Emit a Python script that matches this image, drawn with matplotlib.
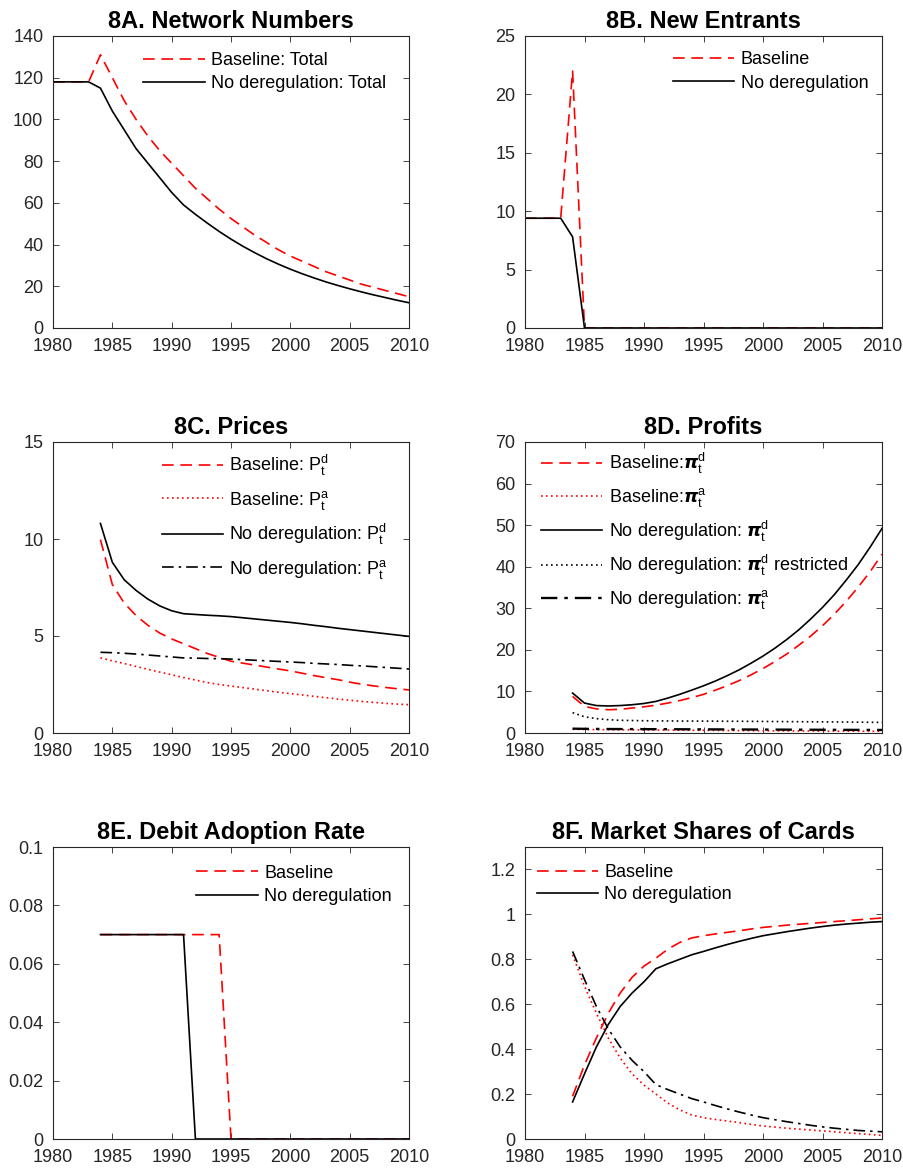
import numpy as np
import matplotlib
matplotlib.use("Agg")
import matplotlib.pyplot as plt
from matplotlib.ticker import FuncFormatter

plt.rcParams['font.family'] = ['Liberation Sans', 'DejaVu Sans']
plt.rcParams['mathtext.fontset'] = 'custom'
plt.rcParams['mathtext.rm'] = 'Liberation Sans'
plt.rcParams['mathtext.it'] = 'Liberation Sans:italic'
plt.rcParams['mathtext.bf'] = 'Liberation Sans:bold'

# ---------------- data ----------------
years_all = list(range(1980, 2011))
years_post = list(range(1984, 2011))

# 8A Network numbers
netnum_baseline = [118, 118, 118, 118, 131, 120, 109, 100, 92, 85, 79, 73, 67, 62, 57,
                   52.5, 48.5, 44.5, 41, 37.5, 34.5, 32, 29.5, 27, 25, 23, 21, 19.5, 18, 16.5, 15]
netnum_nodereg = [118, 118, 118, 118, 115, 104, 95, 86, 79, 72, 65, 59, 54.5, 50.3, 46.3,
                  42.6, 39.2, 36.1, 33.2, 30.6, 28.2, 26, 24, 22.1, 20.4, 18.8, 17.3, 15.9,
                  14.6, 13.3, 12.1]

# 8B New entrants
entr_baseline = [9.4, 9.4, 9.4, 9.4, 22] + [0] * 26
entr_nodereg = [9.4, 9.4, 9.4, 9.4, 7.8] + [0] * 26

# 8C Prices (1984-2010)
pd_baseline = [9.97, 7.65, 6.7, 6.05, 5.55, 5.15, 4.85, 4.6, 4.35, 4.1, 3.9, 3.7, 3.6, 3.5,
               3.4, 3.3, 3.2, 3.08, 2.96, 2.85, 2.75, 2.62, 2.52, 2.43, 2.35, 2.28, 2.22]
pa_baseline = [3.87, 3.72, 3.58, 3.43, 3.28, 3.14, 3.0, 2.86, 2.73, 2.6, 2.5, 2.42, 2.34, 2.26,
               2.18, 2.1, 2.03, 1.96, 1.89, 1.82, 1.75, 1.69, 1.63, 1.58, 1.53, 1.49, 1.46]
pd_nodereg = [10.8, 8.8, 7.9, 7.35, 6.9, 6.55, 6.3, 6.15, 6.11, 6.07, 6.04, 6.0, 5.94, 5.88,
              5.82, 5.76, 5.7, 5.63, 5.55, 5.48, 5.4, 5.33, 5.26, 5.19, 5.12, 5.05, 4.98]
pa_nodereg = [4.16, 4.14, 4.11, 4.07, 4.02, 3.97, 3.92, 3.87, 3.86, 3.84, 3.83, 3.81, 3.78, 3.75,
              3.72, 3.69, 3.66, 3.63, 3.59, 3.56, 3.53, 3.49, 3.46, 3.42, 3.38, 3.34, 3.3]

# 8D Profits (1984-2010)
pid_baseline = [8.8, 6.4, 5.8, 5.6, 5.7, 6.0, 6.3, 6.7, 7.2, 7.8, 8.5, 9.3, 10.3, 11.4,
                12.6, 14.0, 15.5, 17.2, 19.0, 21.1, 23.3, 25.8, 28.6, 31.7, 35.1, 38.8, 43.0]
pia_baseline = [0.9, 0.85, 0.82, 0.8, 0.78, 0.76, 0.74, 0.72, 0.7, 0.68, 0.66, 0.64, 0.62, 0.6,
                0.58, 0.56, 0.54, 0.52, 0.5, 0.49, 0.48, 0.46, 0.45, 0.44, 0.43, 0.42, 0.41]
pid_nodereg = [9.6, 7.2, 6.6, 6.5, 6.6, 6.8, 7.1, 7.6, 8.4, 9.3, 10.3, 11.35, 12.5, 13.8,
               15.2, 16.8, 18.5, 20.4, 22.5, 24.8, 27.4, 30.2, 33.3, 36.8, 40.5, 44.7, 49.2]
pid_restricted = [4.9, 3.9, 3.45, 3.2, 3.05, 3.0, 2.95, 2.92, 2.9, 2.88, 2.87, 2.86, 2.85, 2.83,
                  2.82, 2.8, 2.78, 2.76, 2.74, 2.72, 2.7, 2.68, 2.66, 2.64, 2.61, 2.58, 2.55]
pia_nodereg = [1.05, 1.0, 0.98, 0.96, 0.95, 0.94, 0.93, 0.92, 0.91, 0.9, 0.89, 0.88, 0.87, 0.86,
               0.85, 0.84, 0.83, 0.82, 0.81, 0.8, 0.79, 0.78, 0.77, 0.76, 0.75, 0.74, 0.73]

# 8E Debit adoption rate (1984-2010)
adopt_baseline = [0.07] * 11 + [0] * 16
adopt_nodereg = [0.07] * 8 + [0] * 19

# 8F Market shares (1984-2010)
card_baseline = [0.19, 0.33, 0.45, 0.56, 0.65, 0.72, 0.77, 0.805, 0.845, 0.875, 0.895, 0.905,
                 0.913, 0.92, 0.927, 0.935, 0.942, 0.947, 0.952, 0.956, 0.96, 0.964, 0.968,
                 0.972, 0.976, 0.98, 0.984]
cash_baseline = [0.82, 0.68, 0.56, 0.45, 0.36, 0.29, 0.24, 0.2, 0.16, 0.13, 0.107, 0.095, 0.087,
                 0.08, 0.073, 0.065, 0.058, 0.053, 0.048, 0.044, 0.04, 0.036, 0.032, 0.028,
                 0.024, 0.02, 0.016]
card_nodereg = [0.165, 0.29, 0.41, 0.51, 0.59, 0.65, 0.70, 0.758, 0.78, 0.80, 0.82, 0.835, 0.851,
                0.866, 0.88, 0.893, 0.905, 0.914, 0.923, 0.931, 0.939, 0.946, 0.952, 0.957,
                0.961, 0.965, 0.968]
cash_nodereg = [0.835, 0.71, 0.59, 0.49, 0.41, 0.35, 0.30, 0.242, 0.22, 0.20, 0.18, 0.165, 0.149,
                0.134, 0.12, 0.107, 0.095, 0.086, 0.077, 0.069, 0.061, 0.054, 0.048, 0.043,
                0.038, 0.035, 0.032]

# ---------------- styling ----------------
RED = '#FF0000'
BLK = '#000000'
AXC = '#262626'
LW = 1.2
DASH = (0, (7, 4))
DOT = (0, (1, 2))
DASHDOT = (0, (7, 3, 1.5, 3))
FS = 13
TFS = 17

W, H = 904, 1174
fig = plt.figure(figsize=(W / 100, H / 100), dpi=100)

def axpos(left_px, top_px, right_px, bottom_px):
    return [left_px / W, (H - bottom_px) / H, (right_px - left_px) / W, (bottom_px - top_px) / H]

col = [(53, 409), (525, 882)]
rows = [(36, 328), (442, 733), (847, 1139)]

def make_ax(r, c, title, ylim, yticks):
    ax = fig.add_axes(axpos(col[c][0], rows[r][0], col[c][1], rows[r][1]))
    ax.set_xlim(1980, 2010)
    ax.set_xticks(range(1980, 2011, 5))
    ax.set_ylim(*ylim)
    ax.set_yticks(yticks)
    ax.yaxis.set_major_formatter(FuncFormatter(lambda v, p: ('%g' % round(v, 6))))
    ax.tick_params(direction='in', length=4, width=0.6, colors=AXC, labelsize=FS,
                   top=True, right=True, pad=7)
    for s in ax.spines.values():
        s.set_color(AXC)
        s.set_linewidth(0.8)
    ax.set_title(title, fontsize=TFS, fontweight='bold', pad=6)
    return ax

def leg(ax, x, y, spacing=0.3):
    l = ax.legend(loc='upper left', bbox_to_anchor=(x, y), frameon=False, fontsize=FS,
                  handlelength=3.4, handletextpad=0.35, borderpad=0, borderaxespad=0,
                  labelspacing=spacing)
    for t in l.get_texts():
        t.set_color('black')
    return l

# 8A
ax = make_ax(0, 0, '8A. Network Numbers', (0, 140), range(0, 141, 20))
ax.plot(years_all, netnum_baseline, color=RED, ls=DASH, lw=LW, label='Baseline: Total')
ax.plot(years_all, netnum_nodereg, color=BLK, ls='-', lw=LW, label='No deregulation: Total')
leg(ax, 0.254, 0.945, spacing=0.35)

# 8B
ax = make_ax(0, 1, '8B. New Entrants', (0, 25), range(0, 26, 5))
ax.plot(years_all, entr_baseline, color=RED, ls=DASH, lw=LW, label='Baseline')
ax.plot(years_all, entr_nodereg, color=BLK, ls='-', lw=LW, label='No deregulation')
leg(ax, 0.414, 0.948, spacing=0.35)

# 8C
ax = make_ax(1, 0, '8C. Prices', (0, 15), range(0, 16, 5))
ax.plot(years_post, pd_baseline, color=RED, ls=DASH, lw=LW, label=r'Baseline: $\mathrm{P}_\mathrm{t}^\mathrm{d}$')
ax.plot(years_post, pa_baseline, color=RED, ls=DOT, lw=LW, label=r'Baseline: $\mathrm{P}_\mathrm{t}^\mathrm{a}$')
ax.plot(years_post, pd_nodereg, color=BLK, ls='-', lw=LW, label=r'No deregulation: $\mathrm{P}_\mathrm{t}^\mathrm{d}$')
ax.plot(years_post, pa_nodereg, color=BLK, ls=DASHDOT, lw=LW, label=r'No deregulation: $\mathrm{P}_\mathrm{t}^\mathrm{a}$')
leg(ax, 0.305, 0.962, spacing=0.58)

# 8D
ax = make_ax(1, 1, '8D. Profits', (0, 70), range(0, 71, 10))
ax.plot(years_post, pid_baseline, color=RED, ls=DASH, lw=LW, label=r'Baseline:$\boldsymbol{\pi}_\mathrm{t}^\mathrm{d}$')
ax.plot(years_post, pia_baseline, color=RED, ls=DOT, lw=LW, label=r'Baseline:$\boldsymbol{\pi}_\mathrm{t}^\mathrm{a}$')
ax.plot(years_post, pid_nodereg, color=BLK, ls='-', lw=LW, label=r'No deregulation: $\boldsymbol{\pi}_\mathrm{t}^\mathrm{d}$')
ax.plot(years_post, pid_restricted, color=BLK, ls=DOT, lw=LW, label=r'No deregulation: $\boldsymbol{\pi}_\mathrm{t}^\mathrm{d}$ restricted')
ax.plot(years_post, pia_nodereg, color=BLK, ls=DASHDOT, lw=LW * 1.4, label=r'No deregulation: $\boldsymbol{\pi}_\mathrm{t}^\mathrm{a}$')
leg(ax, 0.045, 0.968, spacing=0.53)

# 8E
ax = make_ax(2, 0, '8E. Debit Adoption Rate', (0, 0.1), np.arange(0, 0.1001, 0.02))
ax.plot(years_post, adopt_baseline, color=RED, ls=DASH, lw=LW, label='Baseline')
ax.plot(years_post, adopt_nodereg, color=BLK, ls='-', lw=LW, label='No deregulation')
leg(ax, 0.403, 0.94, spacing=0.35)

# 8F
ax = make_ax(2, 1, '8F. Market Shares of Cards', (0, 1.3), np.arange(0, 1.2001, 0.2))
ax.plot(years_post, card_baseline, color=RED, ls=DASH, lw=LW, label='Baseline')
ax.plot(years_post, card_nodereg, color=BLK, ls='-', lw=LW, label='No deregulation')
ax.plot(years_post, cash_baseline, color=RED, ls=DOT, lw=LW)
ax.plot(years_post, cash_nodereg, color=BLK, ls=DASHDOT, lw=LW)
leg(ax, 0.033, 0.942, spacing=0.3)

fig.savefig('out.png', dpi=100)
